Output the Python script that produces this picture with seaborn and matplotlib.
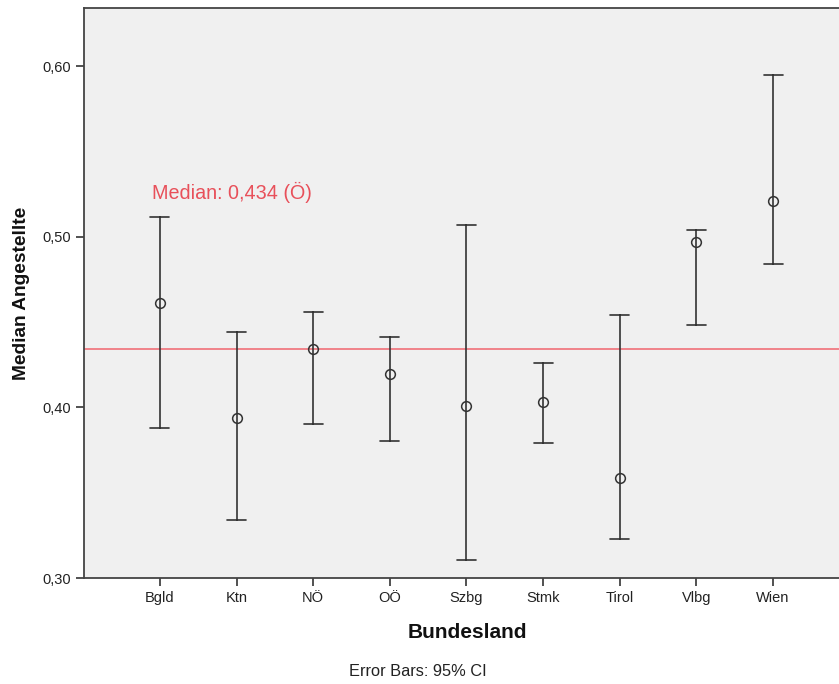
import numpy as np
import pandas as pd
import matplotlib
matplotlib.use("Agg")
import matplotlib.pyplot as plt
import seaborn as sns

bundesland = ["Bgld", "Ktn", "NÖ", "OÖ", "Szbg", "Stmk", "Tirol", "Vlbg", "Wien"]
median_val = [0.461, 0.394, 0.434, 0.4195, 0.401, 0.403, 0.3586, 0.497, 0.521]
ci_low = [0.388, 0.334, 0.390, 0.380, 0.3105, 0.379, 0.323, 0.448, 0.484]
ci_high = [0.5115, 0.444, 0.456, 0.441, 0.507, 0.426, 0.454, 0.504, 0.595]
overall_median = 0.434
y_ticks = [0.30, 0.40, 0.50, 0.60]
y_tick_labels = ["0,30", "0,40", "0,50", "0,60"]

rows = []
for b, lo, m, hi in zip(bundesland, ci_low, median_val, ci_high):
    for v in (lo, m, hi):
        rows.append({"Bundesland": b, "value": v})
df = pd.DataFrame(rows)

sns.set_theme(style="ticks")
plt.rcParams["font.family"] = ["Liberation Sans", "DejaVu Sans"]

fig = plt.figure(figsize=(8.39, 6.84), dpi=100)
W, H = 839, 684
ax = fig.add_axes([84 / W, 1 - 578 / H, (839 - 84) / W, (578 - 8) / H])
ax.set_facecolor("#F0F0F0")

sns.pointplot(
    data=df, x="Bundesland", y="value", order=bundesland,
    estimator="median", errorbar=lambda x: (x.min(), x.max()),
    linestyle="none", markers="o", color="#333333", capsize=0.25,
    markerfacecolor="none", markeredgecolor="#333333", markersize=7,
    markeredgewidth=1.1, err_kws={"linewidth": 1.2}, ax=ax,
)

ax.axhline(overall_median, color="#F07078", linewidth=1.2, zorder=1)
ax.text(-0.1, 0.5195, "Median: 0,434 (Ö)", color="#E8505A", fontsize=14.2,
        ha="left", va="bottom")

ax.set_xlim(-0.99, 8.86)
ax.set_ylim(0.30, 0.634)
ax.set_yticks(y_ticks)
ax.set_yticklabels(y_tick_labels)
ax.tick_params(axis="both", direction="out", length=6, width=1.2, color="#333333",
               labelsize=10.5, labelcolor="#222222")
for s in ["left", "bottom", "top"]:
    ax.spines[s].set_color("#444444")
    ax.spines[s].set_linewidth(1.3)
ax.spines["right"].set_visible(False)

ax.set_xlabel("Bundesland", fontsize=15, fontweight="bold", labelpad=13, color="#111111")
ax.xaxis.label.set_x((467 - 84) / (839 - 84))
ax.set_ylabel("Median Angestellte", fontsize=13.8, fontweight="bold", labelpad=9, color="#111111")
fig.text(418 / W, 1 - 672 / H, "Error Bars: 95% CI", ha="center", va="center",
         fontsize=11.8, color="#222222")

fig.savefig("out.png", dpi=100)
